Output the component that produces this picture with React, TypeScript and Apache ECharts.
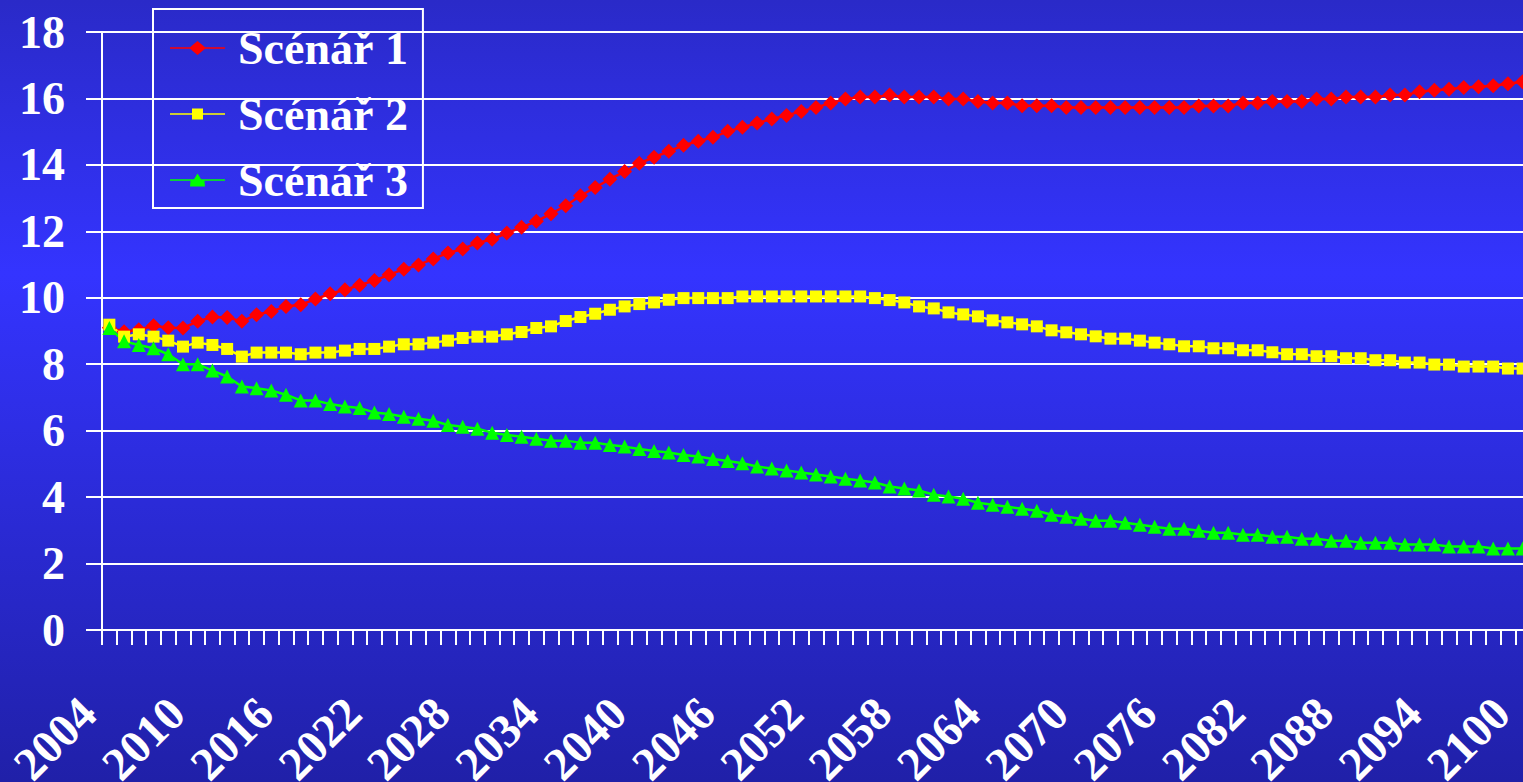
import React, { useEffect, useRef } from "react";
import * as echarts from "echarts";

const years: string[] = [];
for (let y = 2004; y <= 2100; y++) years.push(String(y));

const seriesNames = ["Scénář 1", "Scénář 2", "Scénář 3"];

const scenario1 = [
  9.1, 8.98, 9.04, 9.16, 9.1, 9.09, 9.29, 9.42, 9.41, 9.29,
  9.49, 9.59, 9.74, 9.79, 9.96, 10.12, 10.24, 10.38, 10.52, 10.69,
  10.86, 10.99, 11.17, 11.35, 11.47, 11.65, 11.76, 11.95, 12.12, 12.3,
  12.53, 12.77, 13.07, 13.32, 13.57, 13.8, 14.05, 14.23, 14.41, 14.59,
  14.71, 14.83, 15.01, 15.13, 15.26, 15.38, 15.49, 15.61, 15.73, 15.86,
  15.98, 16.04, 16.04, 16.1, 16.04, 16.04, 16.04, 15.98, 15.98, 15.91,
  15.86, 15.86, 15.78, 15.78, 15.78, 15.73, 15.73, 15.73, 15.73, 15.73,
  15.73, 15.73, 15.73, 15.73, 15.77, 15.77, 15.77, 15.86, 15.86, 15.91,
  15.91, 15.91, 15.98, 15.98, 16.04, 16.04, 16.04, 16.1, 16.1, 16.2,
  16.25, 16.28, 16.33, 16.35, 16.38, 16.44, 16.5,
];

const scenario2 = [
  9.19, 8.83, 8.9, 8.83, 8.71, 8.53, 8.65, 8.58, 8.46, 8.23,
  8.35, 8.35, 8.35, 8.3, 8.35, 8.35, 8.41, 8.46, 8.46, 8.53,
  8.6, 8.6, 8.65, 8.71, 8.79, 8.83, 8.83, 8.9, 8.97, 9.09,
  9.14, 9.3, 9.42, 9.52, 9.64, 9.74, 9.81, 9.86, 9.94, 9.99,
  9.99, 9.99, 9.99, 10.04, 10.04, 10.04, 10.04, 10.04, 10.04, 10.04,
  10.04, 10.04, 9.99, 9.93, 9.86, 9.74, 9.68, 9.56, 9.5, 9.44,
  9.32, 9.26, 9.2, 9.14, 9.02, 8.96, 8.9, 8.84, 8.77, 8.77,
  8.71, 8.65, 8.6, 8.54, 8.54, 8.48, 8.48, 8.42, 8.42, 8.36,
  8.3, 8.3, 8.24, 8.24, 8.18, 8.18, 8.12, 8.12, 8.05, 8.05,
  7.99, 7.99, 7.93, 7.93, 7.93, 7.87, 7.87,
];

const scenario3 = [
  9.09, 8.69, 8.58, 8.48, 8.3, 8.0, 8.0, 7.81, 7.63, 7.33,
  7.28, 7.21, 7.08, 6.91, 6.91, 6.8, 6.73, 6.68, 6.55, 6.5,
  6.42, 6.36, 6.3, 6.17, 6.12, 6.06, 5.94, 5.87, 5.82, 5.76,
  5.7, 5.7, 5.64, 5.64, 5.57, 5.52, 5.45, 5.39, 5.34, 5.27,
  5.22, 5.15, 5.09, 5.02, 4.92, 4.86, 4.8, 4.74, 4.68, 4.62,
  4.55, 4.5, 4.44, 4.32, 4.26, 4.2, 4.07, 4.02, 3.95, 3.83,
  3.77, 3.71, 3.65, 3.59, 3.47, 3.41, 3.35, 3.29, 3.29, 3.23,
  3.17, 3.11, 3.05, 3.05, 2.99, 2.93, 2.93, 2.87, 2.87, 2.81,
  2.81, 2.75, 2.75, 2.69, 2.69, 2.63, 2.63, 2.63, 2.57, 2.57,
  2.57, 2.51, 2.51, 2.51, 2.45, 2.45, 2.45,
];

const FONT = "'Liberation Serif', 'Times New Roman', serif";

// legend icons: a horizontal line with the series marker in its middle
const ICON_DIAMOND = "path://M0,6.2L20,6.2L27.5,0L35,6.2L55,6.2L55,7.8L35,7.8L27.5,14L20,7.8L0,7.8Z";
const ICON_SQUARE = "path://M0,6.2L22,6.2L22,1.5L33,1.5L33,6.2L55,6.2L55,7.8L33,7.8L33,12.5L22,12.5L22,7.8L0,7.8Z";
const ICON_TRIANGLE = "path://M0,6.2L24,6.2L27.5,0.5L31,6.2L55,6.2L55,7.8L34.5,7.8L35,13.5L20,13.5L20.5,7.8L0,7.8Z";

export default function App() {
  const ref = useRef<HTMLDivElement>(null);
  useEffect(() => {
    if (!ref.current) return;
    const chart = echarts.init(ref.current, undefined, { renderer: "svg" });
    const mk = (name: string, data: number[], color: string, symbol: string, size: number) => ({
      name,
      type: "line",
      data,
      symbol,
      symbolSize: size,
      showAllSymbol: true,
      lineStyle: { color, width: 2.5 },
      itemStyle: { color, borderWidth: 0 },
      emphasis: { disabled: true },
    });
    chart.setOption({
      animation: false,
      backgroundColor: new echarts.graphic.LinearGradient(0, 0, 0, 1, [
        { offset: 0, color: "#2a2ac8" },
        { offset: 0.35, color: "#3434ff" },
        { offset: 1, color: "#2020a8" },
      ]),
      grid: {
        left: 102,
        top: 32,
        width: 1428,
        height: 598,
        containLabel: false,
        outerBoundsMode: "none",
      },
      legend: {
        left: 153,
        top: 9,
        orient: "vertical",
        borderColor: "#ffffff",
        borderWidth: 2,
        padding: [14, 15, 3, 17],
        itemGap: 16,
        itemWidth: 55,
        itemHeight: 14,
        textStyle: {
          color: "#ffffff",
          fontSize: 46,
          fontWeight: "bold",
          fontFamily: FONT,
          lineHeight: 50,
          padding: [0, 0, 0, 8],
        },
        data: [
          { name: seriesNames[0], icon: ICON_DIAMOND },
          { name: seriesNames[1], icon: ICON_SQUARE },
          { name: seriesNames[2], icon: ICON_TRIANGLE },
        ],
      },
      xAxis: {
        type: "category",
        data: years,
        boundaryGap: true,
        axisLine: { lineStyle: { color: "#ffffff", width: 2 } },
        axisTick: { show: true, interval: 0, length: 15, lineStyle: { color: "#ffffff", width: 2 } },
        axisLabel: {
          interval: 5,
          rotate: 45,
          margin: 54,
          padding: [0, 30, 0, 0],
          color: "#ffffff",
          fontSize: 47,
          fontWeight: "bold",
          fontFamily: FONT,
        },
        splitLine: { show: false },
      },
      yAxis: {
        type: "value",
        min: 0,
        max: 18,
        interval: 2,
        axisLine: { show: true, lineStyle: { color: "#ffffff", width: 2 } },
        axisTick: { show: true, length: 16, lineStyle: { color: "#ffffff", width: 2 } },
        axisLabel: {
          margin: 37,
          color: "#ffffff",
          fontSize: 46,
          fontWeight: "bold",
          fontFamily: FONT,
        },
        splitLine: { show: true, lineStyle: { color: "#ffffff", width: 2 } },
      },
      series: [
        mk(seriesNames[0], scenario1, "#ff0000", "diamond", 15),
        mk(seriesNames[1], scenario2, "#ffff00", "rect", 12),
        mk(seriesNames[2], scenario3, "#00ff00", "triangle", 14),
      ],
    });
    return () => chart.dispose();
  }, []);
  return (
    <div
      ref={ref}
      style={{ position: "fixed", left: 0, top: 0, width: 1523, height: 782 }}
    />
  );
}
